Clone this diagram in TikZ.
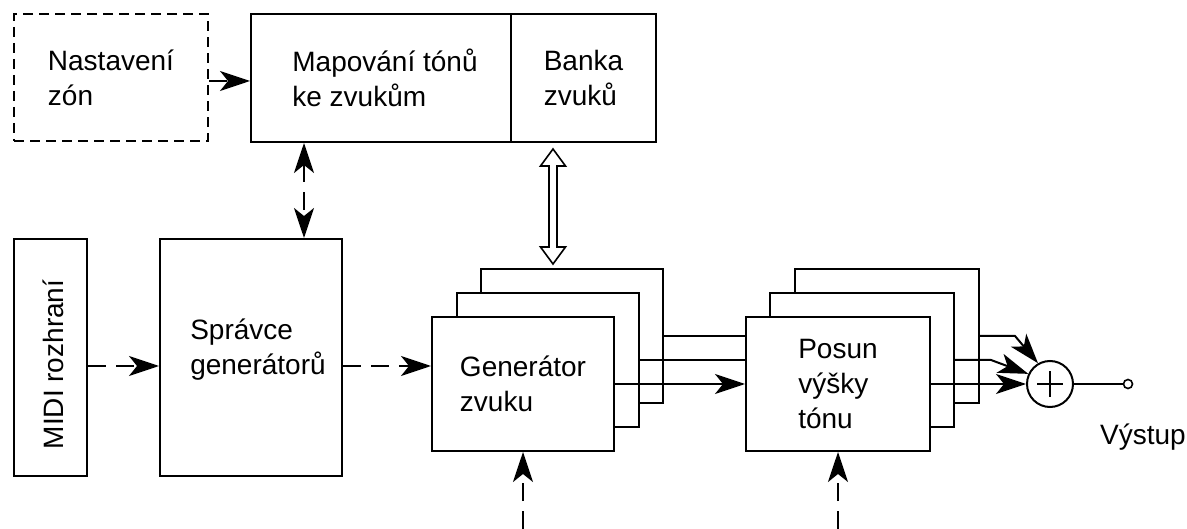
\documentclass[tikz,border=0pt]{standalone}
\usepackage{fontspec}
\setmainfont{Liberation Sans}
\usepackage{graphicx}
\usetikzlibrary{arrows.meta,calc}
\begin{document}
\begin{tikzpicture}[x=1pt,y=-1pt,
  every node/.style={font=\fontsize{28pt}{35pt}\selectfont},
  box/.style={draw, line width=2pt, fill=white, inner sep=0pt, align=left},
  dbox/.style={box, dash pattern=on 10pt off 6pt},
  lbl/.style={align=left, inner sep=0pt},
  wire/.style={line width=2pt},
  head/.tip={Stealth[length=30pt,width=20pt,inset=8pt]},
  arr/.style={wire, -head},
  darr/.style={arr, dash pattern=on 18pt off 10pt},
  ddarr/.style={wire, dash pattern=on 18pt off 10pt, head-head},
  hollow/.style={line width=1.6pt, fill=white, line join=miter},
]
\useasboundingbox (0,0) rectangle (1187,529);

% upper row
\node[dbox, minimum width=194pt, minimum height=127pt] (zone) at (111,77.5) {Nastavení\\zón};
\node[box, minimum width=260pt, minimum height=128pt] (map) at (381,78) {};
\node[lbl] (maptext) at ([xshift=4pt]map.center) {Mapování tónů\\ke zvukům};
\node[box, minimum width=145pt, minimum height=128pt] (bank) at (583.5,78) {Banka\\zvuků};

% control blocks
\node[box, minimum width=73pt, minimum height=237pt] (midi) at (50.5,357.5) {};
\node[lbl, rotate=90] (miditext) at ([xshift=2.5pt,yshift=-7pt]midi.center) {MIDI rozhraní};
\node[box, minimum width=182pt, minimum height=237pt] (spr) at (251,357.5) {};
\node[lbl] (sprtext) at ([xshift=7pt,yshift=8pt]spr.center) {Správce\\generátorů};

% stacked sound generators
\node[box, minimum width=182pt, minimum height=134pt] (gen3) at (572,336) {};
\node[box, minimum width=182pt, minimum height=134pt] (gen2) at (548,360) {};
\node[box, minimum width=182pt, minimum height=134pt] (gen1) at (523,384) {Generátor\\zvuku};

% stacked pitch shifters
\node[box, minimum width=184pt, minimum height=134pt] (pit3) at (887,336) {};
\node[box, minimum width=184pt, minimum height=134pt] (pit2) at (862,360) {};
\node[box, minimum width=184pt, minimum height=134pt] (pit1) at (838,384) {Posun\\výšky\\tónu};

% summing point and output
\node[draw, circle, line width=2pt, minimum size=46pt, inner sep=0pt, fill=white] (sum) at (1050,384) {};
\draw[wire] ([xshift=-13pt]sum.center) -- ([xshift=13pt]sum.center);
\draw[wire] ([yshift=-13pt]sum.center) -- ([yshift=13pt]sum.center);
\node[draw, circle, line width=1.6pt, minimum size=9pt, inner sep=0pt, fill=white] (out) at (1128,384) {};
\node[anchor=base west, inner sep=0pt] (outlabel) at (1100,445) {Výstup};

% connectors
\draw[darr] ([yshift=-3.5pt]zone.east) -- ([yshift=-3.5pt]zone.east -| map.west);
\draw[ddarr] ([xshift=54pt]map.south west) -- ([xshift=54pt]map.south west |- spr.north);
\draw[darr] ([yshift=-8.5pt]midi.east) -- ([yshift=-8.5pt]midi.east -| spr.west);
\draw[darr] ([yshift=-8.5pt]spr.east) -- ([yshift=-8.5pt]spr.east -| gen1.west);

% sound bank <-> generators (hollow double arrow)
\coordinate (hotop) at ([xshift=-30.5pt,yshift=-6pt]bank.south);
\draw[hollow] (hotop) -- ++(12.5,17) -- ++(-8.5,0) -- ++(0,81) -- ++(8.5,0)
  -- ++(-12.5,17) -- ++(-12.5,-17) -- ++(8.5,0) -- ++(0,-81) -- ++(-8.5,0) -- cycle;

\draw[arr] (gen1.east) -- (gen1.east -| pit1.west);
\draw[wire] (gen2.east) -- (gen2.east -| pit1.west);
\draw[wire] (gen3.east) -- (gen3.east -| pit1.west);

\draw[arr] (pit1.east) -- (pit1.east -| sum.west);
\draw[arr] (pit2.east) -- ++(36,0) -- (sum.155);
\draw[arr] (pit3.east) -- ++(35,0) -- (sum.120);
\draw[wire] (sum.east) -- (out.west);

% control inputs from below
\coordinate (genin) at (523,529);
\coordinate (pitin) at (838,529);
\draw[darr] (genin) -- (gen1.south);
\draw[darr] (pitin) -- (pit1.south);
\end{tikzpicture}
\end{document}
